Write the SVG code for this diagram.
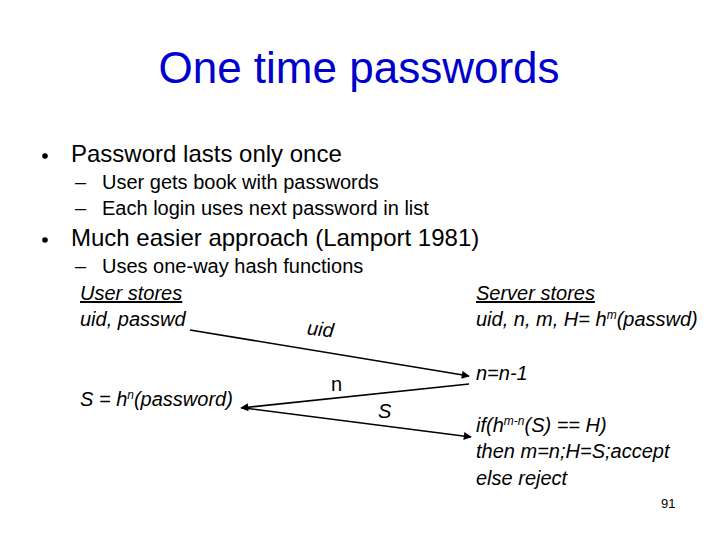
<svg xmlns="http://www.w3.org/2000/svg" width="720" height="540" viewBox="0 0 720 540">
<defs>
<marker id="arr" viewBox="0 0 10 10" refX="9" refY="5" markerWidth="10" markerHeight="8" markerUnits="userSpaceOnUse" orient="auto-start-reverse">
<path d="M0,0 L10,5 L0,10 z" fill="#000"/>
</marker>
</defs>
<style>
text{font-family:"Liberation Sans",Arial,sans-serif;fill:#000}
.title{font-size:44px;fill:#0000cc}
.b1{font-size:24px}
.b2{font-size:20px}
.it{font-size:20px;font-style:italic}
.lab{font-size:20px}
.conn{stroke:#000;stroke-width:1.6;fill:none}
</style>
<rect width="720" height="540" fill="#fff"/>
<g id="title"><text class="title" x="359" y="83" text-anchor="middle">One time passwords</text></g>
<g id="bullets">
<circle cx="45" cy="156" r="2.8" fill="#000"/>
<text class="b1" x="71" y="162">Password lasts only once</text>
<text class="b2" x="75" y="189">–</text>
<text class="b2" x="102" y="189">User gets book with passwords</text>
<text class="b2" x="75" y="215">–</text>
<text class="b2" x="102" y="215">Each login uses next password in list</text>
<circle cx="45" cy="240" r="2.8" fill="#000"/>
<text class="b1" x="71" y="246">Much easier approach (Lamport 1981)</text>
<text class="b2" x="75" y="273">–</text>
<text class="b2" x="102" y="273">Uses one-way hash functions</text>
</g>
<g id="user">
<text class="it" x="80" y="300" text-decoration="underline">User stores </text>
<text class="it" x="80" y="326">uid, passwd</text>
<text class="it" x="80" y="406">S = h<tspan font-size="12" dy="-7">n</tspan><tspan dy="7">(password)</tspan></text>
</g>
<g id="server">
<text class="it" x="476" y="300" text-decoration="underline">Server stores</text>
<text class="it" x="476" y="326">uid, n, m, H= h<tspan font-size="12" dy="-7">m</tspan><tspan dy="7">(passwd)</tspan></text>
<text class="it" x="476" y="380">n=n-1</text>
<text class="it" x="476" y="432">if(h<tspan font-size="12" dy="-7">m-n</tspan><tspan dy="7">(S) == H)</tspan></text>
<text class="it" x="476" y="458">then m=n;H=S;accept</text>
<text class="it" x="476" y="485">else reject</text>
</g>
<g id="connectors">
<line class="conn" x1="190" y1="330" x2="469" y2="376" marker-end="url(#arr)"/>
<line class="conn" x1="469" y1="384" x2="241" y2="408" marker-end="url(#arr)"/>
<line class="conn" x1="244" y1="408" x2="471" y2="437" marker-end="url(#arr)"/>
<text class="it" x="307" y="336" transform="rotate(6 320 330)">uid</text>
<text class="lab" x="331" y="391">n</text>
<text class="it" x="378" y="418">S</text>
</g>
<g id="page"><text x="661" y="508" font-size="13">91</text></g>
</svg>
